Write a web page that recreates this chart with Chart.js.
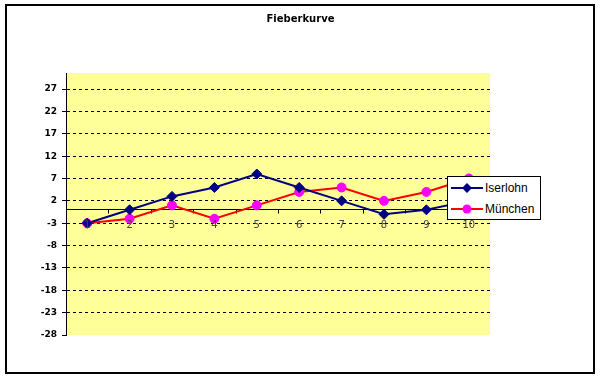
<!DOCTYPE html>
<html>
<head>
<meta charset="utf-8">
<script src="https://cdn.jsdelivr.net/npm/chart.js@4"></script>
<style>
  html, body { margin:0; padding:0; background:#fff; }
  #wrap { position:relative; width:601px; height:379px; overflow:hidden; }
  #frame { position:absolute; left:5px; top:4px; width:590px; height:370px; box-sizing:border-box; border:2px solid #000; pointer-events:none; }
  #title { position:absolute; left:0; width:601px; top:13px; text-align:center; font:bold 10px "DejaVu Sans", sans-serif; color:#000; }
  #legend { position:absolute; left:447px; top:176px; width:94px; height:44px; box-sizing:border-box; border:1px solid #000; background:#fff; font:12px "Liberation Sans", Arial, sans-serif; color:#000; }
  .row { position:absolute; left:2px; height:20px; line-height:20px; white-space:nowrap; }
  .row canvas { position:absolute; left:0; top:0; }
  .row span { position:absolute; left:35px; top:0; }
  canvas#c { position:absolute; left:0; top:0; }
</style>
</head>
<body>
<div id="wrap">
  <canvas id="c" width="601" height="379"></canvas>
  <div id="title">Fieberkurve</div>
  <div id="legend"></div>
  <div id="frame"></div>
</div>
<script>
const categories = ['1','2','3','4','5','6','7','8','9','10'];
const seriesNames = ['Iserlohn', 'München'];
const iserlohn = [-3, 0, 3, 5, 8, 5, 2, -1, 0, 2];
const muenchen = [-3, -2, 1, -2, 1, 4, 5, 2, 4, 7];
const yTicks = [-28, -23, -18, -13, -8, -3, 2, 7, 12, 17, 22, 27];

const plotBg = {
  id: 'plotBg',
  beforeDraw(chart) {
    const a = chart.chartArea, ctx = chart.ctx;
    ctx.save();
    ctx.fillStyle = '#FFFF99';
    ctx.fillRect(a.left, a.top, a.right - a.left, a.bottom - a.top);
    ctx.restore();
  },
  beforeDatasetsDraw(chart) {
    // category axis line crossing at value 0, with tick marks at category boundaries
    const a = chart.chartArea, ctx = chart.ctx;
    const ys = chart.scales.y;
    const y0 = Math.round(ys.getPixelForValue(0) - 0.5) + 0.5;
    ctx.save();
    ctx.setLineDash([]);
    ctx.strokeStyle = '#000';
    ctx.lineWidth = 1;
    ctx.beginPath();
    ctx.moveTo(a.left, y0); ctx.lineTo(a.right, y0);
    const n = categories.length;
    const step = (a.right - a.left) / n;
    for (let i = 1; i < n; i++) {
      const x = Math.round(a.left + i * step) + 0.5;
      ctx.moveTo(x, y0); ctx.lineTo(x, y0 + 4);
    }
    ctx.stroke();
    ctx.restore();
  }
};

const chart = new Chart(document.getElementById('c'), {
  type: 'line',
  data: {
    labels: categories,
    datasets: [
      { label: seriesNames[0], data: iserlohn, borderColor: '#000080', backgroundColor: '#000080',
        borderWidth: 2, pointStyle: 'rectRot', pointRadius: 5, pointBorderWidth: 1,
        pointBackgroundColor: '#000080', pointBorderColor: '#000080', tension: 0 },
      { label: seriesNames[1], data: muenchen, borderColor: '#FF0000', backgroundColor: '#FF00FF',
        borderWidth: 2, pointStyle: 'circle', pointRadius: 4.5, pointBorderWidth: 1,
        pointBackgroundColor: '#FF00FF', pointBorderColor: '#FF00FF', tension: 0 }
    ]
  },
  options: {
    responsive: false,
    animation: false,
    layout: { padding: { left: 0, right: 111, top: 73, bottom: 44 } },
    plugins: { legend: { display: false }, title: { display: false }, tooltip: { enabled: false } },
    scales: {
      x: {
        position: { y: 0 },
        offset: true,
        grid: { display: false },
        border: { display: false },
        ticks: { z: 1, color: '#444', font: { family: 'DejaVu Sans', size: 10 }, padding: 2, maxRotation: 0, autoSkip: false }
      },
      y: {
        min: -28, max: 30.6,
        afterBuildTicks(scale) { scale.ticks = yTicks.map(v => ({ value: v })); },
        afterFit(scale) { scale.width = 66; },
        grid: {
          color: ctx => (ctx.tick && ctx.tick.value === -28) ? 'rgba(0,0,0,0)' : '#000',
          lineWidth: 1, tickLength: 4, tickColor: '#000', drawTicks: true
        },
        border: { display: true, color: '#000', width: 1, dash: [3, 3] },
        ticks: { color: '#000', font: { family: 'DejaVu Sans', size: 9, weight: 'bold' }, padding: 5 }
      }
    }
  },
  plugins: [plotBg]
});

// HTML legend from datasets
const leg = document.getElementById('legend');
chart.data.datasets.forEach((ds, i) => {
  const row = document.createElement('div');
  row.className = 'row';
  row.style.top = (1 + i * 21) + 'px';
  const cv = document.createElement('canvas');
  cv.width = 34; cv.height = 20;
  const g = cv.getContext('2d');
  g.strokeStyle = ds.borderColor; g.lineWidth = 2;
  g.beginPath(); g.moveTo(1, 10); g.lineTo(33, 10); g.stroke();
  g.fillStyle = ds.pointBackgroundColor;
  g.beginPath();
  if (ds.pointStyle === 'rectRot') {
    g.moveTo(17, 5); g.lineTo(22, 10); g.lineTo(17, 15); g.lineTo(12, 10); g.closePath();
  } else {
    g.arc(17, 10, 4.5, 0, Math.PI * 2);
  }
  g.fill();
  row.appendChild(cv);
  const sp = document.createElement('span');
  sp.textContent = ds.label;
  row.appendChild(sp);
  leg.appendChild(row);
});
</script>
</body>
</html>
